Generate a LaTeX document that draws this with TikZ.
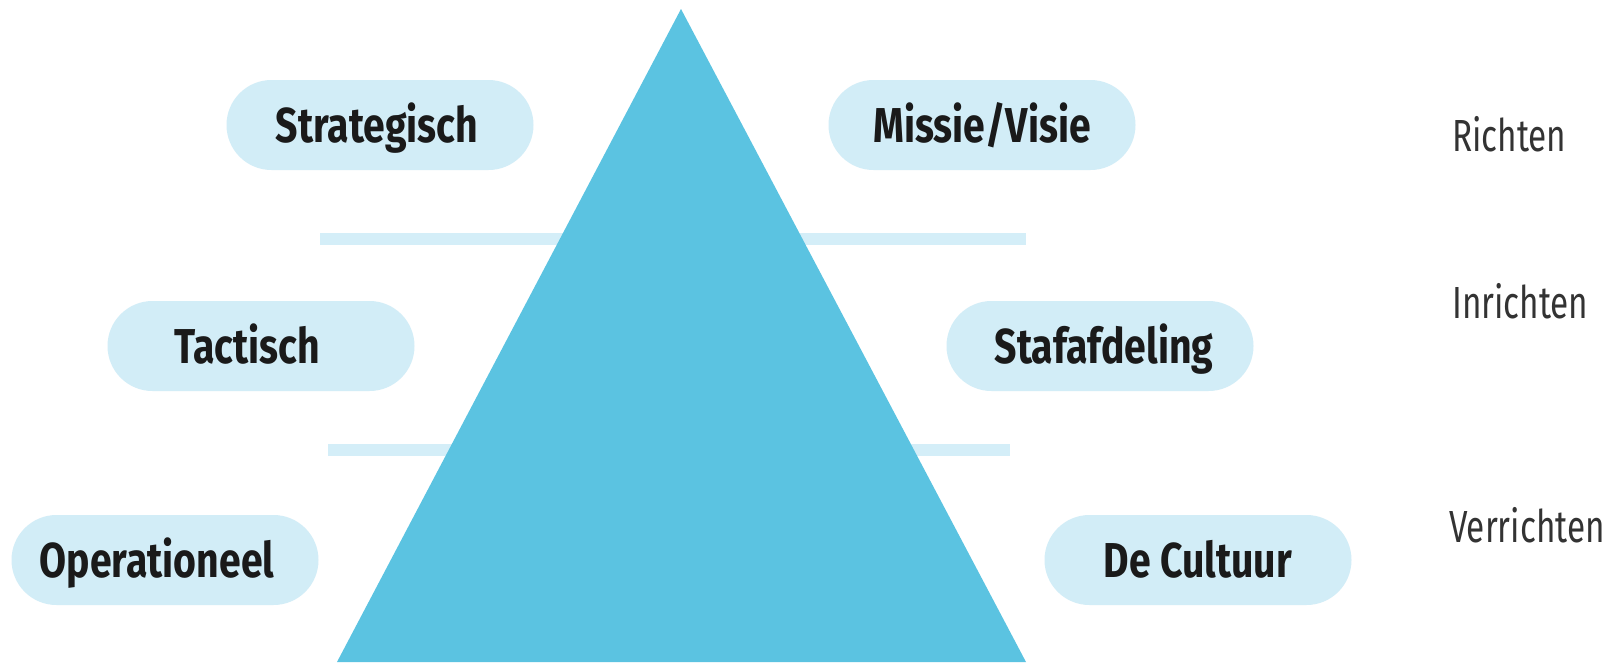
\documentclass[tikz,border=0pt]{standalone}
\usepackage{fontspec}
\setmainfont{Fira Sans}
\newfontfamily\pillfont[FakeStretch=0.8]{Fira Sans}
\newfontfamily\sidefont[FakeStretch=0.74]{Fira Sans}
\definecolor{triblue}{HTML}{5BC3E1}
\definecolor{pillblue}{HTML}{D2EDF7}
\definecolor{bandblue}{HTML}{D4EEF8}
\definecolor{textdark}{HTML}{1A1A1A}
\definecolor{textgray}{HTML}{333333}
% shift a centred text by #1 (pt) horizontally
\newcommand{\nudgetext}[2]{\hspace*{\dimexpr 2\dimexpr #1pt\relax\relax}#2}
\begin{document}
\begin{tikzpicture}[x=1pt,y=-1pt,
  pill/.style={fill=pillblue, rounded corners=45pt, minimum width=307pt, minimum height=90pt,
    inner sep=0pt, text=textdark, text height=34pt, text depth=0pt,
    font=\pillfont\bfseries\fontsize{49}{49}\selectfont},
  sidelabel/.style={anchor=base west, inner sep=0pt, text=textgray,
    font=\sidefont\fontsize{45}{45}\selectfont},
  band/.style={draw=bandblue, line width=12pt}]
\useasboundingbox (0,0) rectangle (1614,662);
\fill[white] (0,0) rectangle (1614,662);
% horizontal bands
\coordinate (b1a) at (320,239);
\coordinate (b1b) at (1026,239);
\coordinate (b2a) at (328,450);
\coordinate (b2b) at (1010,450);
\draw[band] (b1a) -- (b1b);
\draw[band] (b2a) -- (b2b);
% triangle
\coordinate (apex) at (681,9);
\coordinate (bl) at (337,662);
\coordinate (br) at (1026,662);
\fill[triblue] (apex) -- (br) -- (bl) -- cycle;
% pills
\node[pill] (strat) at (380,125) {\nudgetext{-3}{Strategisch}};
\node[pill] (missie) at (982,125) {Missie/Visie};
\node[pill] (tact) at (261,346) {\nudgetext{-14}{Tactisch}};
\node[pill] (staf) at (1100,346) {\nudgetext{4}{Stafafdeling}};
\node[pill] (oper) at (165,560) {\nudgetext{-8}{Operationeel}};
\node[pill] (cult) at (1198,560) {De Cultuur};
% side labels
\node[sidelabel] (richten) at (1452,151) {Richten};
\node[sidelabel] (inrichten) at (1452,318) {Inrichten};
\node[sidelabel] (verrichten) at (1449,542) {Verrichten};
\end{tikzpicture}
\end{document}
